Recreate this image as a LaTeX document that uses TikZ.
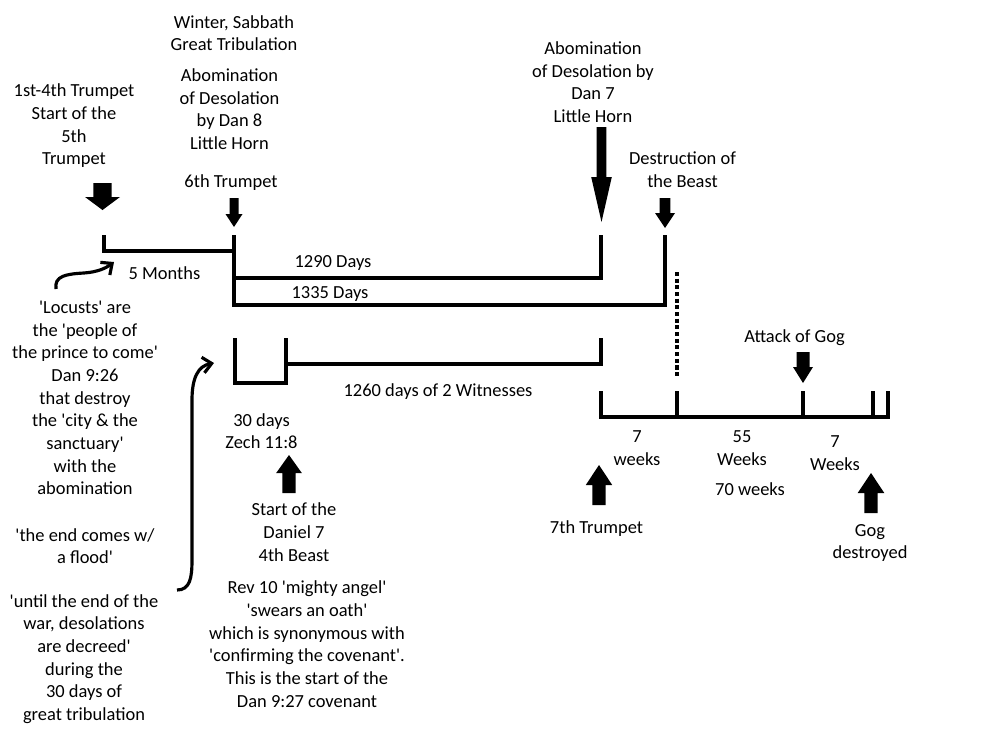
\documentclass[tikz,border=0pt]{standalone}
\usepackage{fontspec}
\setmainfont{Carlito}[Ligatures=TeXOff]
\usetikzlibrary{arrows.meta}

\newcommand{\blockarrow}[6]{%
  \fill (#1-#5,#2) -- (#1+#5,#2) -- (#1+#5,#3) -- (#1+#6,#3) -- (#1,#4) -- (#1-#6,#3) -- (#1-#5,#3) -- cycle;}

\tikzset{
  lbl/.style={align=center, inner sep=0pt, font=\fontsize{10.5}{12.9}\selectfont},
  bar/.style={line width=2.3pt},
  curv/.style={line width=1.8pt, -{Straight Barb[length=5pt, width=9pt]}},
}

\begin{document}
\begin{tikzpicture}[x=0.02cm, y=-0.02cm]
  \useasboundingbox (0,0) rectangle (1000,750);

  % timeline points
  \coordinate (fifth) at (104,235);
  \coordinate (sixth) at (234,235);
  \coordinate (end1290) at (601,235);
  \coordinate (end1335) at (665,235);
  \coordinate (box30) at (235,338);
  \coordinate (end1260) at (601,338);
  \coordinate (wk0) at (601,391);
  \coordinate (wk70) at (888,391);

  \draw [bar] (fifth) -- (104,251) -- (234,251);
  \draw [bar] (sixth) -- (234,305) -- (665,305) -- (end1335);
  \draw [bar] (234,278) -- (601,278) -- (end1290);

  \draw [bar] (box30) -- (235,383) -- (286,383) -- (286,338);
  \draw [bar] (286,364) -- (601,364) -- (end1260);

  \draw [bar] (wk0) -- (601,417) -- (888,417) -- (wk70);
  \foreach \x in {677,803,873}
    \draw [bar] (\x,391) -- (\x,417);
  \draw [line width=2.1pt, dash pattern=on 2.3pt off 1.5pt] (677,272) -- (677,377);

  % arrows
  \blockarrow{102.5}{183}{197}{210}{9.2}{17.5}
  \blockarrow{234}{198}{214}{227}{4.5}{8.5}
  \blockarrow{601.5}{127}{177}{222}{4.8}{10.3}
  \blockarrow{665}{198}{213}{228}{5.3}{10}
  \blockarrow{803}{352}{367}{383}{6.5}{10}
  \blockarrow{289}{493}{473}{455}{6.7}{12.8}
  \blockarrow{599}{505}{485}{465}{6.7}{13.2}
  \blockarrow{871}{513}{493}{473}{6.7}{13.3}

  % labels
  \node [lbl] (winter) at (234,33) {Winter, Sabbath\\Great Tribulation};
  \node [lbl] (abomeight) at (229.5,109) {Abomination\\of Desolation\\by Dan 8\\Little Horn};
  \node [lbl] (trumpsix) at (231,183) {6th Trumpet};
  \node [lbl] (trumpfive) at (74,126) {1st-4th Trumpet\\Start of the\\5th\\Trumpet};
  \node [lbl] (months) at (164.5,273) {5 Months};
  \node [lbl] (days1290) at (333,263) {1290 Days};
  \node [lbl] (days1335) at (330,294) {1335 Days};
  \node [lbl] (abomseven) at (593,82) {Abomination\\of Desolation by\\Dan 7\\Little Horn};
  \node [lbl] (beast) at (682.5,170) {Destruction of\\the Beast};
  \node [lbl] (gogattack) at (794.5,338) {Attack of Gog};
  \node [lbl] (days1260) at (438,392) {1260 days of 2 Witnesses};
  \node [lbl] (zech) at (261.5,431) {30 days\\Zech 11:8};
  \node [lbl] (fourth) at (294,532) {Start of the\\Daniel 7\\4th Beast};
  \node [lbl] (oath) at (307,644) {Rev 10 'mighty angel'\\'swears an oath'\\which is synonymous with\\'confirming the covenant'.\\This is the start of the\\Dan 9:27 covenant};
  \node [lbl] (weeksa) at (637,448) {7\\weeks};
  \node [lbl] (weeksb) at (742,448) {55\\Weeks};
  \node [lbl] (weeks70) at (750,489) {70 weeks};
  \node [lbl] (weeksc) at (835,453) {7\\Weeks};
  \node [lbl] (trumpseven) at (596.5,529) {7th Trumpet};
  \node [lbl] (gogend) at (870,543) {Gog\\destroyed};
  \node [lbl] (locusts) at (85,398) {'Locusts' are\\the 'people of\\the prince to come'\\Dan 9:26\\that destroy\\the 'city \& the\\sanctuary'\\with the\\abomination};
  \node [lbl] (flood) at (85,546) {'the end comes w/\\a flood'};
  \node [lbl] (war) at (84,659) {'until the end of the\\war, desolations\\are decreed'\\during the\\30 days of\\great tribulation};

  % pointers
  \coordinate (locstart) at (56,289);
  \coordinate (monthsend) at (114,262);
  \coordinate (warstart) at (177,590);
  \coordinate (boxend) at (214,363);
  \draw [curv] (locstart) .. controls (54,276) and (66,274) .. (84,273) .. controls (98,272) and (106,268) .. (monthsend);
  \draw [curv] (warstart) .. controls (190,590) and (192,578) .. (192,560) -- (192,400) .. controls (192,378) and (198,366) .. (boxend);
\end{tikzpicture}
\end{document}
